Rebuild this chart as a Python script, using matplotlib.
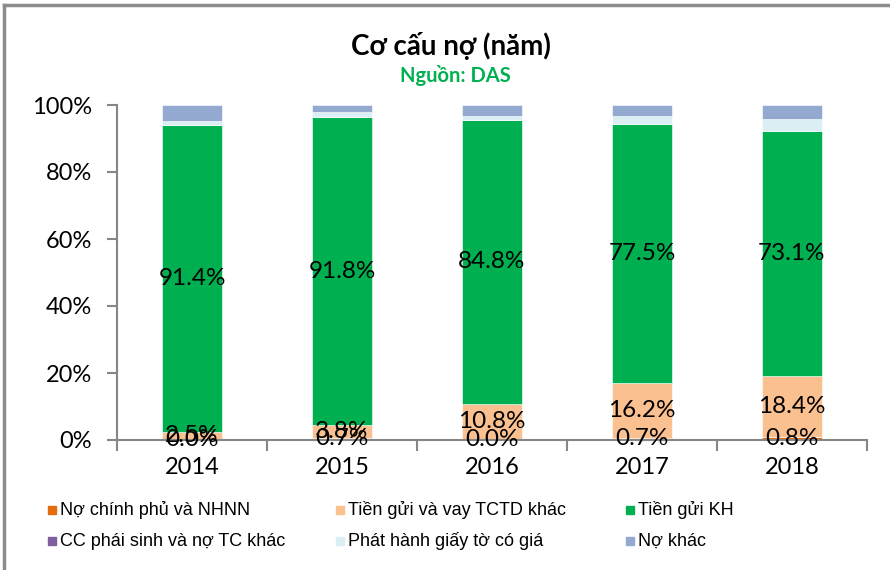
import matplotlib
matplotlib.use("Agg")
import matplotlib.pyplot as plt
from matplotlib.lines import Line2D
import numpy as np

years = ["2014", "2015", "2016", "2017", "2018"]
series_names = ["Nợ chính phủ và NHNN", "Tiền gửi và vay TCTD khác", "Tiền gửi KH",
                "CC phái sinh và nợ TC khác", "Phát hành giấy tờ có giá", "Nợ khác"]
no_chinh_phu = [0.0, 0.7, 0.0, 0.7, 0.8]
tctd = [2.5, 3.8, 10.8, 16.2, 18.4]
tien_gui_kh = [91.4, 91.8, 84.8, 77.5, 73.1]
phai_sinh = [0.0, 0.0, 0.0, 0.0, 0.0]
phat_hanh = [1.2, 1.5, 1.0, 2.2, 3.4]
no_khac = [4.9, 2.2, 3.4, 3.4, 4.3]
yticks = [0, 20, 40, 60, 80, 100]
ytick_labels = ["0%", "20%", "40%", "60%", "80%", "100%"]

colors = ["#E46C0A", "#FAC090", "#00B050", "#7F609F", "#DAEEF3", "#94A9D0"]
series = [no_chinh_phu, tctd, tien_gui_kh, phai_sinh, phat_hanh, no_khac]
labeled = [True, True, True, False, False, False]

W, H = 890, 570
fig = plt.figure(figsize=(W / 100, H / 100), dpi=100)
ax = fig.add_axes([117 / W, 1 - 440 / H, 750 / W, 335 / H])

x = np.arange(len(years))
bottom = np.zeros(len(years))
for vals, col, lab in zip(series, colors, labeled):
    v = np.array(vals, dtype=float)
    ax.bar(x, v, width=0.4, bottom=bottom, color=col, edgecolor="white", linewidth=0.4, zorder=2)
    if lab:
        for xi, b, vi in zip(x, bottom, v):
            ax.text(xi, b + vi / 2, f"{vi:.1f}%", ha="center", va="center",
                    fontsize=17.5, family="Lato", color="black", zorder=5)
    bottom += v

ax.set_xlim(-0.5, len(years) - 0.5)
ax.set_ylim(0, 100)
ax.set_yticks(yticks)
ax.set_yticklabels(ytick_labels, fontsize=17, family="Lato")
ax.set_xticks(x)
ax.set_xticklabels(years, fontsize=17, family="Lato")
ax.set_xticks(np.arange(-0.5, len(years)), minor=True)
ax.tick_params(axis="x", which="major", length=0, pad=12)
ax.tick_params(axis="x", which="minor", length=8, width=1.5, color="#868686", direction="out")
ax.tick_params(axis="y", length=7, width=1.5, color="#868686", pad=11)
for s in ["top", "right"]:
    ax.spines[s].set_visible(False)
for s in ["left", "bottom"]:
    ax.spines[s].set_color("#868686")
    ax.spines[s].set_linewidth(1.5)

fig.text(451 / W, 1 - 46 / H, "Cơ cấu nợ (năm)", ha="center", va="center",
         fontsize=20, fontweight="bold", family="Lato")
fig.text(455 / W, 1 - 76 / H, "Nguồn: DAS", ha="center", va="center",
         fontsize=14.5, fontweight="bold", family="Lato", color="#00B050")

# legend
leg_x = [52, 340, 630]
leg_y = [510, 541]
for i, (name, col) in enumerate(zip(series_names, colors)):
    r, c = divmod(i, 3)
    xm, ym = leg_x[c], leg_y[r]
    fig.patches.append(plt.Rectangle(((xm - 4) / W, 1 - (ym + 4) / H), 8 / W, 8 / H,
                                     transform=fig.transFigure, color=col))
    fig.text((xm + 8) / W, 1 - ym / H, name, ha="left", va="center",
             fontsize=13, family="Liberation Sans", color="black")

# figure frame (top and left)
fig.add_artist(Line2D([4 / W, 4 / W], [0, 1 - 5 / H], transform=fig.transFigure,
                      color="#8C8C8C", linewidth=2.5))
fig.add_artist(Line2D([4 / W, 1], [1 - 5 / H, 1 - 5 / H], transform=fig.transFigure,
                      color="#8C8C8C", linewidth=2.5))

fig.savefig("out.png", dpi=100)
